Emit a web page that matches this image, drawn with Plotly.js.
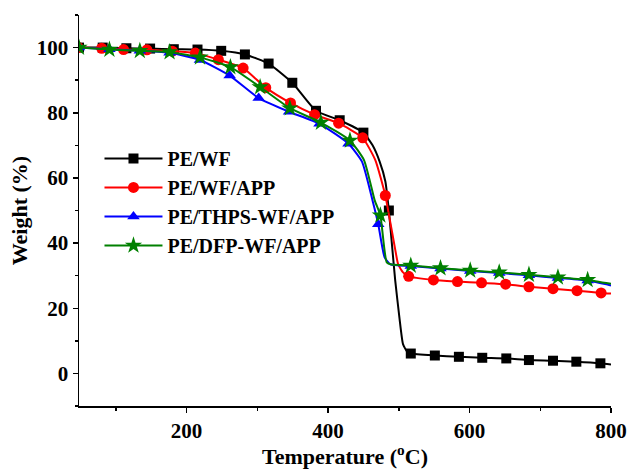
<!DOCTYPE html>
<html>
<head>
<meta charset="utf-8">
<script src="https://cdn.plot.ly/plotly-3.0.1.min.js"></script>
<style>html,body{margin:0;padding:0;background:#fff;}#chart{width:630px;height:469px;}</style>
</head>
<body>
<div id="chart"></div>
<script>
// Series names
const seriesNames = ["PE/WF", "PE/WF/APP", "PE/THPS-WF/APP", "PE/DFP-WF/APP"];

// PE/WF (marker points)
const peWF_T = [48, 81.5, 115, 148.5, 182, 215.5, 249, 282.5, 316, 349.5, 383, 416.5, 450, 486, 517, 551, 585, 618, 652, 684, 718, 751, 785];
const peWF_W = [100, 100, 99.8, 99.7, 99.5, 99.4, 99.0, 97.9, 95.1, 89.2, 80.6, 77.7, 73.9, 50, 6.1, 5.5, 5.1, 4.8, 4.6, 4.1, 3.9, 3.6, 3.1];
// PE/WF extra curve points (no marker)
const peWF_xT = [463, 473, 481, 491, 495, 501, 506, 512, 800];
const peWF_xW = [70, 65, 59, 38, 28.5, 17, 9.0, 6.6, 2.7];

// PE/WF/APP (marker points)
const peApp_T = [47, 80, 111, 144, 180, 212.5, 245, 280, 312, 347, 381, 415, 449, 481, 514, 549, 583, 617, 651, 684, 718, 752, 786];
const peApp_W = [100, 99.8, 99.4, 99.3, 98.9, 98.3, 96.3, 93.7, 87.7, 83.0, 79.4, 76.8, 72.3, 54.6, 29.8, 28.7, 28.2, 27.8, 27.4, 26.6, 26.0, 25.4, 24.7];
const peApp_xT = [467, 485, 490, 495, 499, 506, 800];
const peApp_xW = [65.4, 50, 44, 38, 33.6, 31.0, 24.5];

// PE/THPS-WF/APP (marker points)
const peThps_T = [48, 91, 134, 176, 219, 261, 302, 345, 388, 429, 471, 517, 559, 601, 642, 684, 725, 767];
const peThps_W = [100, 99.5, 99.0, 98.4, 96.2, 91.4, 84.5, 80.3, 76.6, 70.5, 45.8, 33.0, 32.2, 31.4, 30.8, 30.1, 29.3, 28.5];
const peThps_xT = [448, 463, 480, 488, 800];
const peThps_xW = [65, 53, 35.6, 33.5, 27.0];

// PE/DFP-WF/APP (marker points)
const peDfp_T = [48, 91, 134, 176, 219, 262, 304, 346, 390, 431, 474, 517, 559, 601, 642, 684, 725, 767];
const peDfp_W = [100, 99.4, 99.0, 98.6, 97.0, 94.0, 87.9, 81.4, 77.0, 71.5, 48.5, 33.1, 32.3, 31.6, 31.0, 30.3, 29.5, 28.7];
const peDfp_xT = [451, 466, 483, 490, 800];
const peDfp_xW = [65.4, 53.1, 34.1, 33.4, 27.5];

const colors = ["#000000", "#ff0000", "#0000ff", "#008000"];
const symbols = ["square", "circle", "triangle-up", "star"];
const msizes = [10, 11, 11, 13];

function merge(t1, w1, t2, w2) {
  const pts = t1.map((t, i) => [t, w1[i]]).concat(t2.map((t, i) => [t, w2[i]]));
  pts.sort((a, b) => a[0] - b[0]);
  return [pts.map(p => p[0]), pts.map(p => p[1])];
}

const sets = [
  [peWF_T, peWF_W, peWF_xT, peWF_xW],
  [peApp_T, peApp_W, peApp_xT, peApp_xW],
  [peThps_T, peThps_W, peThps_xT, peThps_xW],
  [peDfp_T, peDfp_W, peDfp_xT, peDfp_xW]
];

const traces = [];
sets.forEach((s, i) => {
  const [lt, lw] = merge(s[0], s[1], s[2], s[3]);
  traces.push({
    x: lt, y: lw, type: "scatter", mode: "lines",
    line: {color: colors[i], width: 2, shape: "spline", smoothing: 0.5},
    showlegend: false, hoverinfo: "skip"
  });
  traces.push({
    x: s[0], y: s[1], type: "scatter", mode: "markers",
    marker: {symbol: symbols[i], size: msizes[i], color: colors[i], line: {width: 0}},
    showlegend: false, hoverinfo: "skip"
  });
});
// legend entries (line + marker samples)
sets.forEach((s, i) => {
  traces.push({
    x: [null], y: [null], type: "scatter", mode: "lines+markers", name: seriesNames[i],
    line: {color: colors[i], width: 2},
    marker: {symbol: symbols[i], size: msizes[i], color: colors[i], line: {width: 0}},
    showlegend: true
  });
});

const tickFont = {family: "Liberation Serif", size: 21, color: "#000", weight: 700};
const titleFont = {family: "Liberation Serif", size: 22, color: "#000", weight: 700};

const layout = {
  width: 630, height: 469,
  margin: {l: 78.5, r: 18.5, t: 15, b: 63.3},
  paper_bgcolor: "#fff", plot_bgcolor: "#fff",
  showlegend: true,
  legend: {
    x: 0.0385, y: 0.683, xanchor: "left", yanchor: "top",
    font: {family: "Liberation Serif", size: 20, color: "#000", weight: 700},
    bgcolor: "rgba(0,0,0,0)", borderwidth: 0, itemwidth: 58
  },
  xaxis: {
    range: [48, 800], showgrid: false, zeroline: false,
    showline: true, linecolor: "#000", linewidth: 1.5, mirror: false,
    ticks: "outside", ticklen: 5, tickwidth: 1.5, tickcolor: "#000",
    tick0: 0, dtick: 200, tickfont: tickFont,
    minor: {ticks: "outside", ticklen: 3, tickwidth: 1.5, tickcolor: "#000", dtick: 100, tick0: 0, showgrid: false},
    title: {text: "Temperature (<sup>o</sup>C)", font: titleFont, standoff: 10}
  },
  yaxis: {
    range: [-10, 110], showgrid: false, zeroline: false,
    showline: true, linecolor: "#000", linewidth: 1.5, mirror: false,
    ticks: "outside", ticklen: 5, tickwidth: 1.5, tickcolor: "#000",
    tick0: 0, dtick: 20, tickfont: tickFont,
    minor: {ticks: "outside", ticklen: 3, tickwidth: 1.5, tickcolor: "#000", dtick: 10, tick0: 0, showgrid: false},
    title: {text: "Weight (%)", font: titleFont, standoff: 3}
  }
};

Plotly.newPlot("chart", traces, layout, {staticPlot: true, displayModeBar: false});
</script>
</body>
</html>
